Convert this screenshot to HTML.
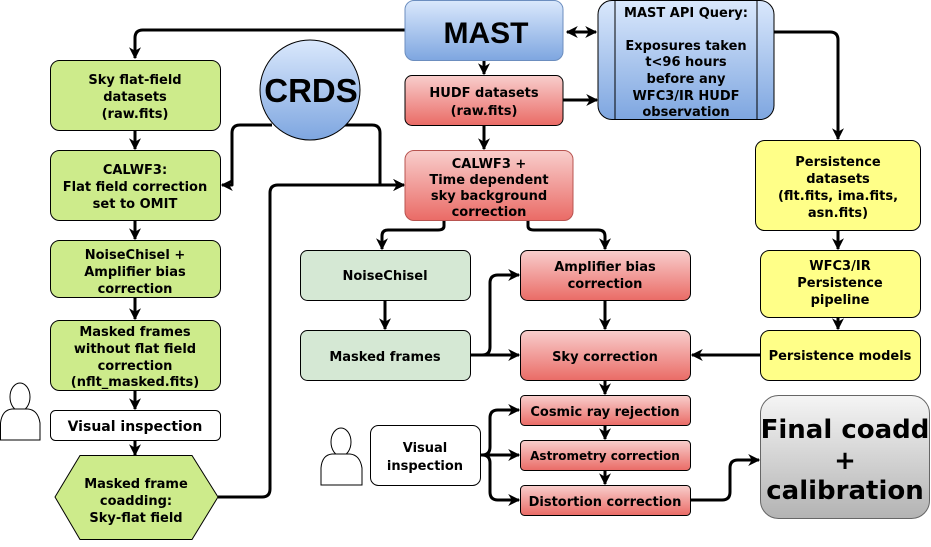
<!DOCTYPE html>
<html><head><meta charset="utf-8"><style>
html,body{margin:0;padding:0;background:#fff;}
svg text{font-family:"DejaVu Sans",sans-serif;font-weight:bold;fill:#000;text-anchor:middle;}
</style></head><body>
<svg width="931" height="542" viewBox="0 0 931 542" xmlns="http://www.w3.org/2000/svg">
<defs>
<linearGradient id="blue" x1="0" y1="0" x2="0" y2="1"><stop offset="0" stop-color="#dae8fc"/><stop offset="1" stop-color="#7ea6e0"/></linearGradient>
<linearGradient id="red" x1="0" y1="0" x2="0" y2="1"><stop offset="0" stop-color="#f8cecc"/><stop offset="1" stop-color="#ea6b66"/></linearGradient>
<linearGradient id="gray" x1="0" y1="0" x2="0" y2="1"><stop offset="0" stop-color="#f5f5f5"/><stop offset="1" stop-color="#b3b3b3"/></linearGradient>
<marker id="a" viewBox="0 0 10 10" refX="9" refY="5" markerWidth="4" markerHeight="4" orient="auto-start-reverse"><path d="M0,0 L10,5 L0,10 L3,5 z" fill="#000"/></marker>
</defs>
<g fill="none" stroke="#000" stroke-width="3" stroke-linejoin="round" marker-end="url(#a)">
<path d="M405,30 H143 Q135,30 135,38 V58"/>
<path d="M567,32 H596" marker-start="url(#a)"/>
<path d="M484,60 V74"/>
<path d="M563,100 H597"/>
<path d="M484,125 V149"/>
<path d="M774,32 H830 Q838,32 838,40 V139"/>
<path d="M272,125 H240 Q232,125 232,133 V185 H222"/>
<path d="M345,125 H372 Q380,125 380,133 V185 H404"/>
<path d="M218,497 H262 Q270,497 270,489 V193 Q270,185 278,185 H404"/>
<path d="M444,220 V226 Q444,230 438,230 H388 Q382,230 382,236 V249"/>
<path d="M528,220 V226 Q528,230 534,230 H598 Q605,230 605,236 V249"/>
<path d="M385,300 V329"/>
<path d="M470,355 H482 Q490,355 490,347 V283 Q490,275 498,275 H519"/>
<path d="M470,355 H519"/>
<path d="M605,300 V329"/>
<path d="M838,230 V249"/>
<path d="M838,317 V329"/>
<path d="M760,355 H692"/>
<path d="M605,380 V394"/>
<path d="M605,425 V439"/>
<path d="M605,470 V484"/>
<path d="M480,455 H519"/>
<path d="M480,455 H482 Q490,455 490,447 V418 Q490,410 498,410 H519"/>
<path d="M480,455 H482 Q490,455 490,463 V492 Q490,500 498,500 H519"/>
<path d="M690,500 H722 Q730,500 730,492 V468 Q730,460 738,460 H759"/>
<path d="M135,130 V149"/>
<path d="M135,220 V239"/>
<path d="M135,297 V319"/>
<path d="M135,390 V409"/>
<path d="M135,440 V455"/>
</g>
<g stroke="#000" stroke-width="1">
<rect x="405" y="0.5" width="158" height="60" rx="9" fill="url(#blue)" stroke="#6c8ebf"/>
<rect x="598" y="0.5" width="176" height="119" rx="14" fill="url(#blue)"/>
<line x1="615" y1="0.5" x2="615" y2="119.5"/><line x1="757" y1="0.5" x2="757" y2="119.5"/>
<rect x="405" y="75.5" width="158" height="50" rx="7" fill="url(#red)"/>
<rect x="405" y="150.5" width="168" height="70" rx="9" fill="url(#red)" stroke="#b85450"/>
<rect x="50.5" y="60.5" width="170" height="70" rx="9" fill="#cdeb8b"/>
<rect x="50.5" y="150.5" width="170" height="70" rx="9" fill="#cdeb8b"/>
<rect x="50.5" y="240.5" width="170" height="57" rx="9" fill="#cdeb8b"/>
<rect x="50.5" y="320.5" width="170" height="70" rx="9" fill="#cdeb8b"/>
<rect x="50.5" y="410.5" width="170" height="30" rx="5" fill="#fff"/>
<polygon points="80,455.5 192,455.5 218,497 192,539.5 80,539.5 55,497" fill="#cdeb8b"/>
<circle cx="310" cy="90" r="50" fill="url(#blue)"/>
<rect x="755.5" y="140.5" width="165" height="90" rx="9" fill="#ffff88"/>
<rect x="760.5" y="250.5" width="160" height="67" rx="9" fill="#ffff88"/>
<rect x="760.5" y="330.5" width="160" height="50" rx="9" fill="#ffff88"/>
<rect x="300.5" y="250.5" width="170" height="50" rx="7" fill="#d5e8d4"/>
<rect x="300.5" y="330.5" width="170" height="50" rx="7" fill="#d5e8d4"/>
<rect x="520.5" y="250.5" width="170" height="50" rx="7" fill="url(#red)"/>
<rect x="520.5" y="330.5" width="170" height="50" rx="7" fill="url(#red)"/>
<rect x="520.5" y="395.5" width="170" height="30" rx="4" fill="url(#red)"/>
<rect x="520.5" y="440.5" width="170" height="30" rx="4" fill="url(#red)"/>
<rect x="520.5" y="485.5" width="170" height="30" rx="4" fill="url(#red)"/>
<rect x="370.5" y="425.5" width="110" height="60" rx="8" fill="#fff"/>
<rect x="760.5" y="395.5" width="169" height="123" rx="18" fill="url(#gray)" stroke="#666"/>
<g fill="#fff">
<ellipse cx="20" cy="397" rx="10" ry="14"/><path d="M0.5,440 V423 Q2,410 12,409 H28 Q38,410 40,423 V440 Z"/>
<ellipse cx="341" cy="442" rx="10" ry="14"/><path d="M321,485 V468 Q322,455 332,454 H350 Q360,455 362,468 V485 Z"/>
</g>
</g>
<text x="486" y="43" font-size="30" style="font-family:'Liberation Sans',sans-serif">MAST</text>
<text x="311" y="102" font-size="33" style="font-family:'Liberation Sans',sans-serif">CRDS</text>
<g font-size="13">
<text x="686" y="17">MAST API Query:</text>
<text x="686" y="50">Exposures taken</text>
<text x="686" y="66">t&lt;96 hours</text>
<text x="686" y="83">before any</text>
<text x="686" y="100">WFC3/IR HUDF</text>
<text x="686" y="116">observation</text>
<text x="484" y="97">HUDF datasets</text>
<text x="484" y="115">(raw.fits)</text>
<text x="489" y="168">CALWF3 +</text>
<text x="489" y="184">Time dependent</text>
<text x="489" y="200">sky background</text>
<text x="489" y="216">correction</text>
<text x="135" y="84">Sky flat-field</text>
<text x="135" y="101">datasets</text>
<text x="135" y="118">(raw.fits)</text>
<text x="135" y="174">CALWF3:</text>
<text x="135" y="191">Flat field correction</text>
<text x="135" y="208">set to OMIT</text>
<text x="135" y="259">NoiseChisel +</text>
<text x="135" y="276">Amplifier bias</text>
<text x="135" y="293">correction</text>
<text x="135" y="336">Masked frames</text>
<text x="135" y="353">without flat field</text>
<text x="135" y="370">correction</text>
<text x="135" y="386">(nflt_masked.fits)</text>
<text x="135" y="431" font-size="14">Visual inspection</text>
<text x="136" y="488">Masked frame</text>
<text x="136" y="505">coadding:</text>
<text x="136" y="522">Sky-flat field</text>
<text x="838" y="166">Persistence</text>
<text x="838" y="183">datasets</text>
<text x="838" y="200">(flt.fits, ima.fits,</text>
<text x="838" y="217">asn.fits)</text>
<text x="840" y="270">WFC3/IR</text>
<text x="840" y="287">Persistence</text>
<text x="840" y="304">pipeline</text>
<text x="840" y="360">Persistence models</text>
<text x="385" y="280">NoiseChisel</text>
<text x="385" y="361">Masked frames</text>
<text x="605" y="271">Amplifier bias</text>
<text x="605" y="288">correction</text>
<text x="605" y="361">Sky correction</text>
<text x="605" y="416">Cosmic ray rejection</text>
<text x="605" y="460" font-size="12">Astrometry correction</text>
<text x="605" y="506">Distortion correction</text>
<text x="425" y="452">Visual</text>
<text x="425" y="470">inspection</text>
</g>
<text x="845" y="438" font-size="26">Final coadd</text>
<text x="845" y="469" font-size="26">+</text>
<text x="845" y="499" font-size="26">calibration</text>
</svg>
</body></html>
